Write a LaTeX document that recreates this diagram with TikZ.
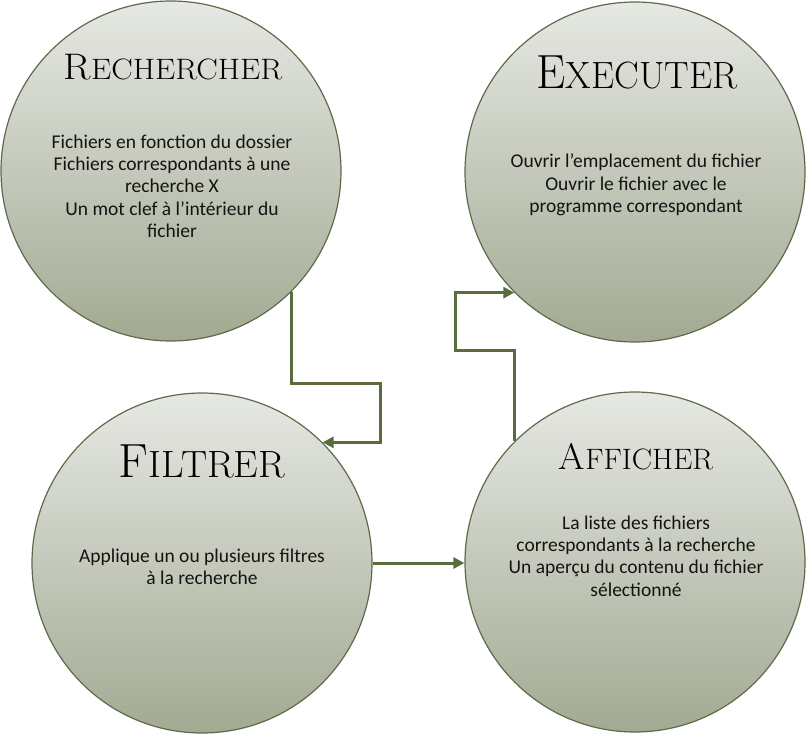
\documentclass[tikz,border=0pt]{standalone}
\usepackage{fontspec}
\usepackage{graphicx}
\newfontfamily\bodyfont{Carlito}
\usetikzlibrary{arrows.meta}
\definecolor{edgec}{RGB}{94,106,74}
\definecolor{linkc}{RGB}{90,107,60}
\definecolor{topc}{RGB}{230,232,227}
\definecolor{botc}{RGB}{162,170,147}
\definecolor{txtc}{RGB}{20,20,20}
\tikzset{
 stage/.style={circle, minimum size=340pt, inner sep=0pt, draw=edgec, line width=1.2pt, top color=topc, bottom color=botc},
 link/.style={draw=linkc, line width=3pt, -{Triangle[length=11pt,width=11pt]}},
 body/.style={font=\bodyfont\fontsize{19.5}{22.3}\selectfont, align=center, text=txtc, inner sep=0pt},
 ttl/.style={anchor=base, inner sep=0pt, text=black},
}
\newcommand{\bigttl}[3]{\scalebox{#1}[1]{{\fontsize{48}{48}\selectfont #2}{\fontsize{38}{38}\selectfont #3}}}
\newcommand{\smallttl}[3]{\scalebox{#1}[1]{{\fontsize{37}{37}\selectfont #2}{\fontsize{29.5}{29.5}\selectfont #3}}}
\begin{document}
\begin{tikzpicture}[x=1pt,y=-1pt]
\useasboundingbox (0,0) rectangle (806,734);
\node[stage] (rech) at (171,171) {};
\node[stage] (exec) at (635,172) {};
\node[stage] (filt) at (202,563) {};
\node[stage] (affi) at (635,562) {};
\node[ttl] (rechT) at (173,79) {\smallttl{1.09}{R}{ECHERCHER}};
\node[ttl] (execT) at (637,88) {\bigttl{0.97}{E}{XECUTER}};
\node[ttl] (filtT) at (202,477) {\bigttl{1.03}{F}{ILTRER}};
\node[ttl] (affiT) at (636,469) {\smallttl{1.03}{A}{FFICHER}};
\node[body] (rechB) at (172,186) {Fichiers en fonction du dossier\\Fichiers correspondants à une\\recherche X\\Un mot clef à l’intérieur du\\fichier};
\node[body] (execB) at (636,185) {Ouvrir l’emplacement du fichier\\Ouvrir le fichier avec le\\programme correspondant};
\node[body] (filtB) at (202,567) {Applique un ou plusieurs filtres\\à la recherche};
\node[body] (affiB) at (636,556) {La liste des fichiers\\correspondants à la recherche\\Un aperçu du contenu du fichier\\sélectionné};
\coordinate (c1a) at (380,383);
\coordinate (c3a) at (455,350);
\draw[link] (rech.-45) |- (c1a) |- (filt.45);
\draw[link] (filt.east) -- (filt.east -| affi.west);
\draw[link] (affi.135) |- (c3a) |- (exec.-135);
\end{tikzpicture}
\end{document}
